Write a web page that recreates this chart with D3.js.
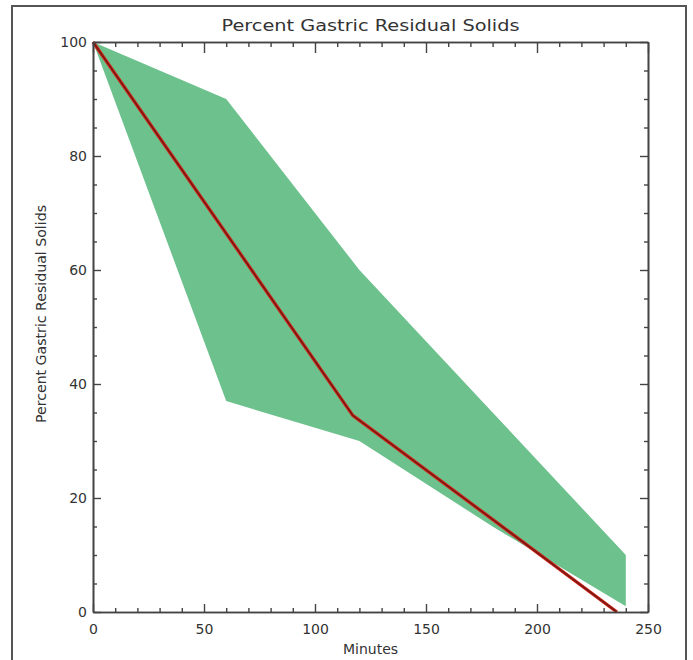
<!DOCTYPE html>
<html>
<head>
<meta charset="utf-8">
<script src="https://cdn.jsdelivr.net/npm/d3@7"></script>
<style>
  body { margin: 0; background: #fff; }
  svg text { font-family: "DejaVu Sans", sans-serif; fill: #333; }
</style>
</head>
<body>
<div id="graphRender"></div>
<script>
// band (range of values) and mean curve
var bandMinutes = [0, 60, 120, 180, 240];
var bandUpper = [100, 90, 60, 35, 10];
var bandLower = [100, 37, 30, 15, 1];

var meanMinutes = [0, 117, 236];
var meanPercent = [100, 34.5, 0];

var xMajorTicks = [0, 50, 100, 150, 200, 250];
var yMajorTicks = [0, 20, 40, 60, 80, 100];

var titleText = "Percent Gastric Residual Solids";
var xLabel = "Minutes";
var yLabel = "Percent Gastric Residual Solids";

// set the dimensions and margins of the graph
var W = 693, H = 660;
var margin = {top: 42, right: 45, bottom: 48, left: 93},
    width = W - margin.left - margin.right,
    height = H - margin.top - margin.bottom;

var svg = d3.select("#graphRender")
  .append("svg")
    .attr("width", W)
    .attr("height", H);

// outer frame
svg.append("rect")
    .attr("x", 12).attr("y", 6)
    .attr("width", 674).attr("height", 700)
    .attr("fill", "none")
    .attr("stroke", "#555")
    .attr("stroke-width", 2);

var g = svg.append("g")
    .attr("transform", "translate(" + margin.left + "," + margin.top + ")");

var x = d3.scaleLinear().domain([0, 250]).range([0, width]);
var y = d3.scaleLinear().domain([0, 100]).range([height, 0]);

var band = bandMinutes.map(function(m, i) {
  return {m: m, lo: bandLower[i], hi: bandUpper[i]};
});
var mean = meanMinutes.map(function(m, i) { return {m: m, v: meanPercent[i]}; });

// green band
g.append("path")
    .datum(band)
    .attr("d", d3.area()
      .x(function(d) { return x(d.m); })
      .y0(function(d) { return y(d.lo); })
      .y1(function(d) { return y(d.hi); }))
    .attr("fill", "#6cc18d");

// mean line: red edge with dark red core
var line = d3.line()
    .x(function(d) { return x(d.m); })
    .y(function(d) { return y(d.v); });
g.append("path").datum(mean).attr("d", line)
    .attr("fill", "none").attr("stroke", "#d8261c").attr("stroke-width", 3.4)
    .attr("stroke-linejoin", "round");
g.append("path").datum(mean).attr("d", line)
    .attr("fill", "none").attr("stroke", "#7e1a12").attr("stroke-width", 1.7)
    .attr("stroke-linejoin", "round");

var xMinor = d3.range(0, 251, 10).filter(function(v) { return v % 50 !== 0; });
var yMinor = d3.range(0, 101, 5).filter(function(v) { return v % 20 !== 0; });

function styleAxis(sel) {
  sel.selectAll("path").attr("stroke", "#444").attr("stroke-width", 1.6);
  sel.selectAll("line").attr("stroke", "#444").attr("stroke-width", 1.4);
  sel.selectAll("text").attr("font-size", "14px").attr("fill", "#333")
     .attr("font-family", "DejaVu Sans, sans-serif");
}

// bottom axis (ticks inward)
g.append("g").attr("transform", "translate(0," + height + ")")
  .call(d3.axisBottom(x).tickValues(xMajorTicks).tickSize(-8).tickPadding(12).tickSizeOuter(0)
    .tickFormat(d3.format("d")))
  .call(styleAxis);
g.append("g").attr("transform", "translate(0," + height + ")")
  .call(d3.axisBottom(x).tickValues(xMinor).tickSize(-4).tickFormat("").tickSizeOuter(0))
  .call(styleAxis);

// top axis, no labels
g.append("g")
  .call(d3.axisTop(x).tickValues(xMajorTicks).tickSize(-11).tickFormat("").tickSizeOuter(0))
  .call(styleAxis);
g.append("g")
  .call(d3.axisTop(x).tickValues(xMinor).tickSize(-5).tickFormat("").tickSizeOuter(0))
  .call(styleAxis);

// left axis
g.append("g")
  .call(d3.axisLeft(y).tickValues(yMajorTicks).tickSize(-8).tickPadding(6).tickSizeOuter(0)
    .tickFormat(d3.format("d")))
  .call(styleAxis);
g.append("g")
  .call(d3.axisLeft(y).tickValues(yMinor).tickSize(-4).tickFormat("").tickSizeOuter(0))
  .call(styleAxis);

// right axis, no labels
g.append("g").attr("transform", "translate(" + width + ",0)")
  .call(d3.axisRight(y).tickValues(yMajorTicks).tickSize(-8).tickFormat("").tickSizeOuter(0))
  .call(styleAxis);
g.append("g").attr("transform", "translate(" + width + ",0)")
  .call(d3.axisRight(y).tickValues(yMinor).tickSize(-4).tickFormat("").tickSizeOuter(0))
  .call(styleAxis);

// title
svg.append("text")
    .attr("x", margin.left + width / 2)
    .attr("y", 31)
    .attr("text-anchor", "middle")
    .attr("font-size", "16px")
    .attr("textLength", 298)
    .attr("lengthAdjust", "spacingAndGlyphs")
    .text(titleText);

// text label for the x axis
svg.append("text")
    .attr("x", margin.left + width / 2)
    .attr("y", 654)
    .attr("text-anchor", "middle")
    .attr("font-size", "14px")
    .text(xLabel);

// text label for the y axis
svg.append("text")
    .attr("transform", "translate(46,314) rotate(-90)")
    .attr("text-anchor", "middle")
    .attr("font-size", "14px")
    .attr("textLength", 218)
    .attr("lengthAdjust", "spacingAndGlyphs")
    .text(yLabel);
</script>
</body>
</html>
